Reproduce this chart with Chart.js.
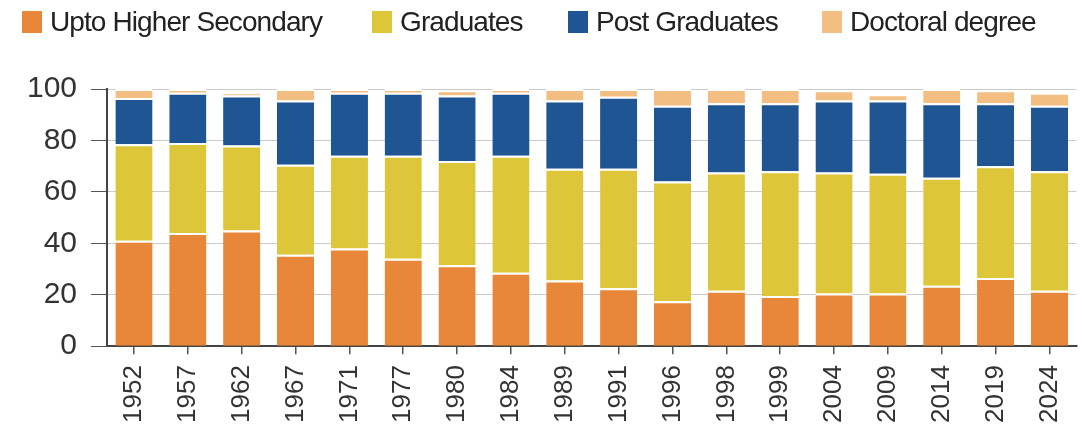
<!DOCTYPE html>
<html>
<head>
<meta charset="utf-8">
<script src="https://cdn.jsdelivr.net/npm/chart.js@4.4.1/dist/chart.umd.min.js"></script>
<style>
  html, body { margin: 0; padding: 0; background: #fff; }
  #wrap { width: 1092px; height: 434px; position: relative; }
  #legend { position: absolute; left: 0; top: 0; width: 1092px; height: 46px; }
  .leg-item { position: absolute; top: 6px; display: flex; align-items: center; height: 32px;
              font-family: 'Liberation Sans', Arial, sans-serif; font-size: 28px;
              color: #222; white-space: nowrap; letter-spacing: -0.9px; }
  .leg-box { width: 20px; height: 22px; margin-right: 8px; }
</style>
</head>
<body>
<div id="wrap">
  <div id="legend"></div>
  <canvas id="myChart"></canvas>
</div>
<script>
/* ---- Datos ---- */
const years = ["1952", "1957", "1962", "1967", "1971", "1977", "1980", "1984", "1989",
               "1991", "1996", "1998", "1999", "2004", "2009", "2014", "2019", "2024"];

const higherSecondary = [41, 44, 45, 35.5, 38, 34, 31.5, 28.5, 25.5, 22.5, 17.5, 21.5, 19.5, 20.5, 20.5, 23.5, 26.5, 21.5];
const graduates       = [37.5, 35, 33, 35, 36, 40, 40.5, 45.5, 43.5, 46.5, 46.5, 46, 48.5, 47, 46.5, 42, 43.5, 46.5];
const postGraduates   = [18, 19.5, 19.5, 25, 24.5, 24.5, 25.5, 24.5, 26.5, 28, 29.5, 27, 26.5, 28, 28.5, 29, 24.5, 25.5];
const doctoral        = [3.5, 1.5, 1, 4.5, 1.5, 1.5, 2, 1.5, 4.5, 3, 6.5, 5.5, 5.5, 4, 2.5, 5.5, 5, 5];

const yTicks = [0, 20, 40, 60, 80, 100];

/* ---- Estilos ---- */
const FONT_NUM = "'Liberation Sans', Arial, sans-serif";
const legendLeft = [22, 372, 568, 822]; // posición x de cada entrada de la leyenda

function serie(label, data, color) {
  return {
    label,
    data,
    backgroundColor: color,
    borderColor: "#ffffff",
    borderWidth: { top: 2, left: 0, right: 0, bottom: 0 },
    borderSkipped: false,
    barPercentage: 0.69,
    categoryPercentage: 1,
  };
}

const ctx = document.getElementById("myChart").getContext("2d");

const chart = new Chart(ctx, {
  type: "bar",
  data: {
    labels: years,
    datasets: [
      serie("Upto Higher Secondary", higherSecondary, "#E8873A"),
      serie("Graduates",             graduates,       "#DEC63A"),
      serie("Post Graduates",        postGraduates,   "#1F5592"),
      serie("Doctoral degree",       doctoral,        "#F2BE82"),
    ],
  },
  options: {
    responsive: true,
    maintainAspectRatio: false,
    animation: false,
    layout: { padding: { left: 13, right: 12, top: 89, bottom: 0 } },
    plugins: {
      legend: { display: false },
      tooltip: { enabled: false },
    },
    scales: {
      x: {
        stacked: true,
        grid: { offset: false, drawOnChartArea: false, tickLength: 8, color: "#555", lineWidth: 1.5 },
        border: { color: "#444", width: 2 },
        ticks: {
          color: "#333",
          font: { family: FONT_NUM, size: 26 },
          maxRotation: 90,
          minRotation: 90,
          padding: 11,
          autoSkip: false,
        },
      },
      y: {
        stacked: true,
        min: 0,
        max: 100,
        afterBuildTicks: axis => { axis.ticks = yTicks.map(v => ({ value: v })); },
        grid: { color: "#cbcbcb", lineWidth: 1, tickLength: 16, tickColor: "#555" },
        border: { color: "#444", width: 2 },
        ticks: {
          color: "#333",
          font: { family: FONT_NUM, size: 30 },
          padding: 14,
        },
      },
    },
  },
});

/* ---- Leyenda HTML ---- */
const legend = document.getElementById("legend");
chart.data.datasets.forEach((ds, i) => {
  const item = document.createElement("div");
  item.className = "leg-item";
  item.style.left = legendLeft[i] + "px";
  item.innerHTML = `<span class="leg-box" style="background:${ds.backgroundColor}"></span><span>${ds.label}</span>`;
  legend.appendChild(item);
});
</script>
</body>
</html>
